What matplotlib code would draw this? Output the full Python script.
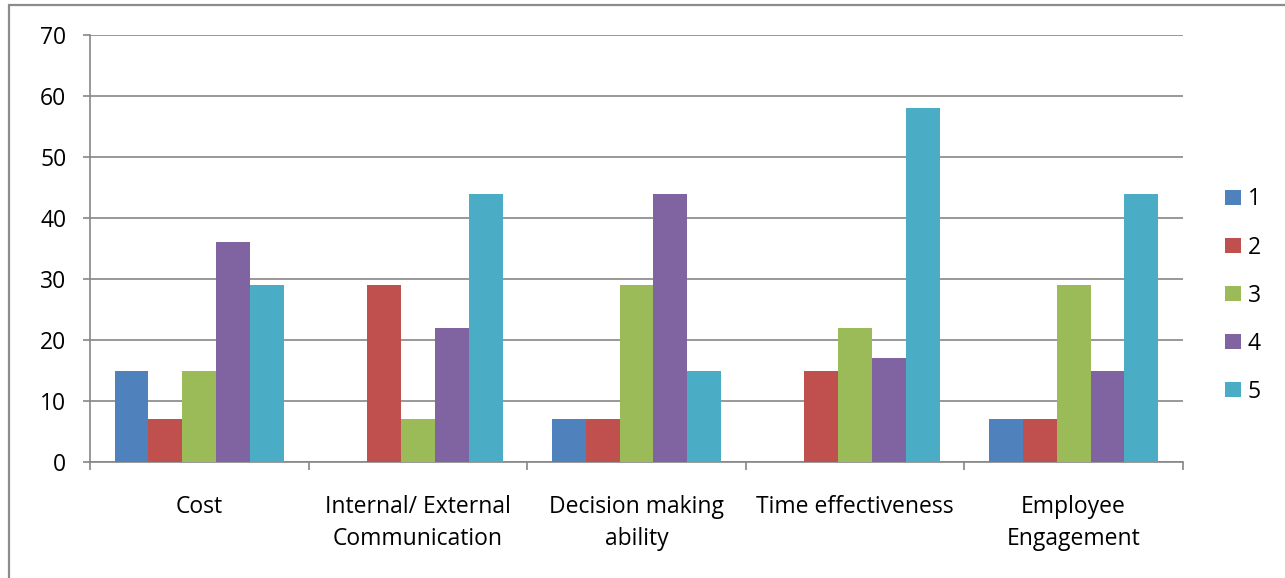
import numpy as np
import matplotlib.pyplot as plt
from matplotlib.patches import Patch, Rectangle

categories = ["Cost", "Internal/ External\nCommunication", "Decision making\nability",
              "Time effectiveness", "Employee\nEngagement"]
series_names = ["1", "2", "3", "4", "5"]
values = {
    "1": [15, 0, 7, 0, 7],
    "2": [7, 29, 7, 15, 7],
    "3": [15, 7, 29, 22, 29],
    "4": [36, 22, 44, 17, 15],
    "5": [29, 44, 15, 58, 44],
}
colors = ["#4F81BD", "#C0504D", "#9BBB59", "#8064A2", "#4BACC6"]

plt.rcParams['font.family'] = ['Open Sans', 'DejaVu Sans']
plt.rcParams['font.size'] = 16.5

fig = plt.figure(figsize=(12.85, 5.78), dpi=100)
ax = fig.add_axes([0.0700, 0.2007, 0.8506, 0.7387])

grey = "#868686"
x = np.arange(len(categories))
w = 0.155
for i, name in enumerate(series_names):
    ax.bar(x + (i - 2) * w, values[name], width=w, color=colors[i], zorder=3)

ax.set_xlim(-0.5, len(categories) - 0.5)
ax.set_ylim(0, 70)
ax.set_yticks(range(0, 71, 10))
ax.yaxis.grid(True, color=grey, linewidth=1.2, zorder=0)

ax.set_xticks(x)
ax.set_xticklabels(categories, linespacing=1.42)
ax.set_xticks(np.arange(-0.5, len(categories), 1.0), minor=True)
ax.tick_params(axis='x', which='major', length=0, pad=24)
ax.tick_params(axis='x', which='minor', length=6, width=1.2, color=grey)
ax.tick_params(axis='y', length=5, width=1.2, color=grey, pad=12)

for side in ("top", "right"):
    ax.spines[side].set_visible(False)
for side in ("left", "bottom"):
    ax.spines[side].set_color(grey)
    ax.spines[side].set_linewidth(1.2)

handles = [Patch(facecolor=c, edgecolor='none') for c in colors]
fig.legend(handles, series_names, loc='upper left',
           bbox_to_anchor=(1214 / 1285, 1 - 176 / 578), frameon=False,
           handlelength=0.66, handleheight=0.66, handletextpad=0.3,
           labelspacing=1.05, borderpad=0)

# outer chart border
fig.patches.append(Rectangle((9 / 1285, -0.1), 1.2, 1 - 5 / 578 + 0.1,
                             transform=fig.transFigure, fill=False,
                             edgecolor="#8c8c8c", linewidth=1.6))

fig.savefig("out.png", dpi=100)
